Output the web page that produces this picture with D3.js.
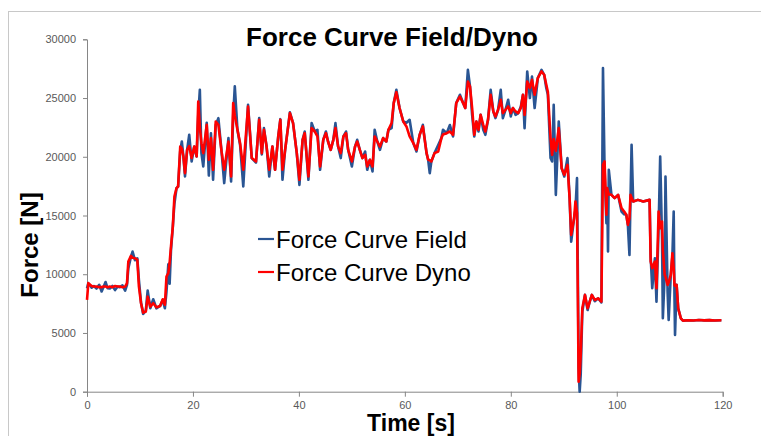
<!DOCTYPE html>
<html>
<head>
<meta charset="utf-8">
<script src="https://cdn.jsdelivr.net/npm/d3@7"></script>
<style>
  body { margin: 0; background: #fff; }
  svg { display: block; font-family: "Liberation Sans", Arial, sans-serif; }
</style>
</head>
<body>
<div id="chart"></div>
<script>
// time [s]
const time = [
  0, 0.25, 0.88, 1.3, 1.8, 2.3, 2.76, 3.1, 3.5, 3.9, 4.3, 4.8, 5.3, 5.8, 6.2, 6.7, 7.2, 7.55, 7.8, 8.3,
  8.6, 9.05, 9.5, 9.8, 10.2, 10.6, 11.1, 11.45, 11.95, 12.5, 13.1, 13.8, 14.3, 14.7, 15.0, 15.35, 15.6, 15.85, 16.2, 16.5,
  16.9, 17.2, 17.6, 17.9, 18.2, 18.5, 18.9, 19.3, 19.75, 20.25, 20.7, 21.0, 21.3, 21.6, 21.95, 22.6, 23.0, 23.4, 23.8, 24.3,
  24.8, 25.4, 25.9, 26.7, 27.2, 27.6, 27.9, 28.4, 28.9, 29.5, 30.4, 31.1, 31.9, 32.5, 33.0, 33.4, 33.9, 34.4, 35.0, 35.5,
  36.1, 36.5, 36.9, 37.4, 38.3, 38.9, 39.6, 40.1, 40.7, 41.1, 41.8, 42.4, 43.0, 43.5, 44.0, 44.6, 45.1, 45.5, 46.0, 46.5,
  46.9, 47.4, 47.9, 48.4, 48.9, 49.3, 50.0, 50.6, 51.0, 51.5, 52.0, 52.5, 52.9, 53.4, 53.9, 54.3, 54.8, 55.3, 55.9, 56.5,
  56.9, 57.5, 57.9, 58.4, 59.0, 59.7, 60.3, 60.9, 61.6, 62.2, 62.8, 63.4, 64.1, 64.4, 64.7, 65.0, 65.6, 66.3, 66.9, 67.2,
  67.9, 68.5, 69.1, 69.7, 70.4, 71.0, 71.4, 71.9, 72.3, 72.7, 73.1, 73.5, 73.9, 74.3, 74.8, 75.2, 75.7, 76.2, 76.7, 77.1,
  77.6, 78.1, 78.5, 79.0, 79.5, 80.0, 80.4, 80.9, 81.4, 81.9, 82.3, 82.6, 83.1, 83.6, 84.0, 84.5, 85.1, 85.8, 86.3, 86.7,
  87.0, 87.5, 87.8, 88.1, 88.5, 89.05, 89.6, 90.1, 90.7, 91.1, 91.4, 91.95, 92.2, 92.5, 92.7, 92.8, 93.0, 93.2, 93.5, 94.0,
  94.5, 94.9, 95.3, 95.85, 96.5, 97.1, 97.4, 97.7, 98.05, 98.2, 98.35, 98.5, 99.0, 99.6, 100.25, 100.9, 101.4, 101.8, 102.1, 102.4,
  102.6, 102.8, 103.1, 104.0, 105.0, 106.2, 106.4, 106.7, 107.2, 107.5, 107.9, 108.2, 108.55, 108.7, 109.05, 109.2, 109.6, 109.8, 110.2, 110.5,
  110.75, 110.9, 111.0, 111.3, 111.6, 112.1, 112.5, 113.5, 114.5, 115.5, 116.5, 117.5, 118.5, 119.75
];

// Force Curve Field [N]
const field = [
  8800, 9240, 8850, 9000, 8780, 9100, 8530, 8900, 9340, 8800, 8780, 9000, 8650, 8950, 8900, 9050, 8600, 9100, 10500, 11500,
  11930, 11200, 11360, 9500, 7600, 6620, 6900, 8610, 7100, 7870, 7100, 7300, 7800, 7100, 8500, 10850, 9200, 12000, 14060, 16000,
  17330, 17470, 20500, 21300, 20020, 18320, 20590, 21870, 19600, 20870, 20020, 23500, 25700, 20310, 19170, 22900, 18400, 22000, 18040, 22700,
  23290, 20450, 17760, 21590, 17900, 23500, 25990, 22300, 21000, 17470, 24430, 19890, 19500, 23300, 20200, 22440, 20870, 18320, 20870, 18890,
  21730, 23200, 18040, 20590, 23780, 22870, 20310, 17610, 21440, 22150, 18040, 22870, 22150, 22300, 18890, 21440, 22150, 21300, 20590, 21440,
  22870, 20870, 19890, 21730, 22150, 20590, 19170, 20870, 21440, 20590, 19890, 20450, 18890, 19740, 18750, 22300, 21300, 20590, 21590, 21300,
  22300, 22440, 24570, 25700, 24150, 23000, 22900, 23150, 21160, 20450, 21870, 22720, 20310, 19740, 18600, 19600, 20310, 21000, 21590, 22300,
  22010, 22700, 21730, 24570, 25280, 24570, 24150, 27400, 25990, 23570, 21730, 23000, 22150, 23570, 22300, 21870, 23150, 25700, 23860, 23290,
  24000, 25700, 23290, 24000, 24850, 23430, 24150, 23570, 23720, 24280, 25280, 22440, 27260, 25000, 26830, 24150, 26700, 27400, 26980, 25850,
  25280, 19890, 19600, 24430, 16760, 23000, 19030, 18320, 19890, 16480, 12780, 14770, 15500, 18180, 8000, 2000, 0, 1500, 6800, 8240,
  6950, 7670, 8240, 7700, 7950, 7600, 27560, 19000, 14340, 17000, 11930, 18890, 16760, 16480, 16760, 15340, 15100, 15060, 14200, 11650,
  16500, 21020, 16190, 16330, 16190, 16330, 11500, 8810, 11360, 7670, 14000, 20020, 13000, 6250, 9940, 18320, 8500, 6110, 9940, 11500,
  15340, 8000, 4830, 9090, 7100, 6250, 6050, 6080, 6060, 6100, 6070, 6090, 6060, 6080
];

// Force Curve Dyno [N]
const dyno = [
  7810, 9240, 9000, 8950, 8950, 8900, 8900, 8950, 8950, 8900, 8950, 8900, 9000, 8950, 8950, 8900, 8950, 9240, 11070, 11560,
  11400, 11360, 11220, 8950, 7530, 6730, 6820, 8090, 7240, 7530, 7190, 7300, 7870, 7400, 9800, 10090, 11000, 12350, 14060, 16610,
  17330, 17470, 20870, 20700, 20020, 18600, 20590, 20900, 19890, 20870, 20020, 24710, 22500, 21160, 20310, 22720, 19740, 21590, 18890, 23000,
  22720, 20450, 18890, 21300, 18320, 24570, 23500, 22300, 21160, 18890, 24280, 19890, 19600, 23150, 20310, 22300, 20870, 18890, 20870, 18890,
  21730, 23150, 18890, 20590, 23720, 22870, 20310, 18040, 21440, 22010, 18320, 22440, 22150, 21730, 19170, 21440, 22010, 21300, 20590, 21440,
  22440, 20870, 20310, 21730, 22010, 20590, 19600, 20870, 21300, 20590, 19890, 20170, 19170, 19740, 19170, 21730, 21300, 20870, 21590, 21300,
  22300, 22870, 24570, 25500, 24150, 23000, 22580, 21730, 21160, 20590, 21870, 22580, 20310, 19740, 19700, 19600, 20310, 20450, 21590, 21900,
  22010, 22150, 21870, 24570, 25130, 24570, 24150, 26400, 25990, 24150, 21870, 23000, 22300, 23570, 22720, 22150, 23150, 25280, 23860, 23430,
  24000, 24850, 23720, 24000, 24280, 23720, 24150, 23860, 23720, 24150, 25280, 23570, 26400, 25850, 26550, 25280, 26700, 27260, 26980, 26130,
  25510, 21590, 20170, 21500, 20500, 22440, 19030, 18460, 19310, 16480, 13350, 14770, 16190, 15200, 5960, 850, 1500, 3130, 7100, 8240,
  7100, 7670, 8240, 7810, 7950, 7670, 19310, 19600, 15060, 17330, 17000, 16800, 16760, 16480, 16760, 15630, 15340, 15060, 14200, 14800,
  16760, 16500, 16190, 16330, 16190, 16330, 11080, 10510, 11080, 8810, 15340, 13920, 14480, 12000, 9940, 9800, 9090, 9300, 9940, 11790,
  10500, 9090, 9000, 9090, 7100, 6250, 6050, 6080, 6060, 6100, 6070, 6090, 6060, 6080
];

const seriesNames = ["Force Curve Field", "Force Curve Dyno"];
const seriesColors = ["#2a5593", "#ff0000"];
const xTicks = [0, 20, 40, 60, 80, 100, 120];
const yTicks = [0, 5000, 10000, 15000, 20000, 25000, 30000];

const width = 761, height = 436;
const margin = { top: 39.3, right: 38.3, bottom: 44.3, left: 87 };
const graphWidth = width - margin.left - margin.right;
const graphHeight = height - margin.top - margin.bottom;

const svg = d3.select("#chart").append("svg")
    .attr("width", width)
    .attr("height", height);

// chart area border
svg.append("rect")
    .attr("x", 8.5)
    .attr("y", 11.5)
    .attr("width", 800)
    .attr("height", 500)
    .attr("fill", "none")
    .attr("stroke", "#c8c8c8")
    .attr("stroke-width", 1);

const graph = svg.append("g")
    .attr("transform", `translate(${margin.left},${margin.top})`);

const x = d3.scaleLinear().domain([0, 120]).range([0, graphWidth]);
const y = d3.scaleLinear().domain([0, 30000]).range([graphHeight, 0]);

const xAxis = d3.axisBottom(x).tickValues(xTicks).tickSize(5).tickPadding(5)
    .tickFormat(d3.format("d"));
const yAxis = d3.axisLeft(y).tickValues(yTicks).tickSize(4).tickPadding(7)
    .tickFormat(d3.format("d"));

const xAxisGroup = graph.append("g")
    .attr("transform", `translate(0, ${graphHeight})`)
    .call(xAxis);
const yAxisGroup = graph.append("g").call(yAxis);

[xAxisGroup, yAxisGroup].forEach(g => {
    g.select(".domain").attr("stroke", "#868686");
    g.selectAll(".tick line").attr("stroke", "#868686");
    g.selectAll(".tick text")
        .attr("fill", "#595959")
        .style("font-size", "11px")
        .style("font-family", "'Liberation Sans', Arial, sans-serif");
});

// lines
const line = d3.line()
    .x((d, i) => x(time[i]))
    .y(d => y(d));

[field, dyno].forEach((values, k) => {
    graph.append("path")
        .datum(values)
        .attr("fill", "none")
        .attr("stroke", seriesColors[k])
        .attr("stroke-width", 2.6)
        .attr("stroke-linejoin", "round")
        .attr("d", line);
});

// title
svg.append("text")
    .attr("x", 392)
    .attr("y", 46)
    .attr("text-anchor", "middle")
    .style("font-size", "26px")
    .style("font-weight", "bold")
    .text("Force Curve Field/Dyno");

// axis titles
svg.append("text")
    .attr("x", 411)
    .attr("y", 431)
    .attr("text-anchor", "middle")
    .style("font-size", "23px")
    .style("font-weight", "bold")
    .text("Time [s]");

svg.append("text")
    .attr("transform", "translate(38, 245) rotate(-90)")
    .attr("text-anchor", "middle")
    .style("font-size", "24px")
    .style("font-weight", "bold")
    .text("Force [N]");

// legend
const legend = svg.append("g")
    .attr("transform", "translate(258, 239)");

legend.selectAll("line")
    .data(seriesNames)
    .enter()
    .append("line")
    .attr("x1", 0)
    .attr("x2", 16)
    .attr("y1", (d, i) => i * 33)
    .attr("y2", (d, i) => i * 33)
    .attr("stroke", (d, i) => seriesColors[i])
    .attr("stroke-width", 2.2);

legend.selectAll("text")
    .data(seriesNames)
    .enter()
    .append("text")
    .attr("x", 18)
    .attr("y", (d, i) => i * 33 + 8.5)
    .style("font-size", "24px")
    .attr("fill", "#000")
    .text(d => d);
</script>
</body>
</html>
